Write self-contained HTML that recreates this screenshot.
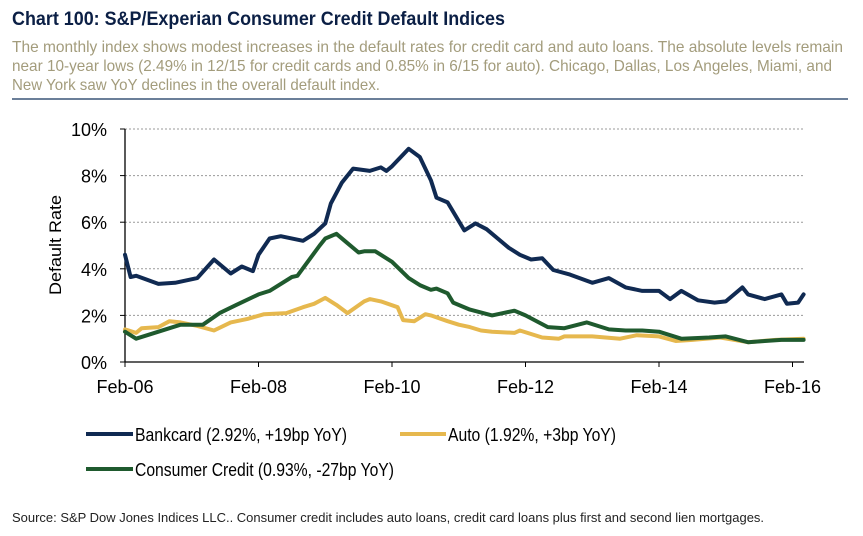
<!DOCTYPE html>
<html><head><meta charset="utf-8">
<style>
html,body{margin:0;padding:0;background:#fff;}
svg{display:block;font-family:"Liberation Sans",Arial,sans-serif;}
</style></head>
<body>
<svg id="chart" width="863" height="536" viewBox="0 0 863 536" xmlns="http://www.w3.org/2000/svg">
<text x="12" y="25" font-size="19.5" font-weight="bold" fill="#0b1f45" textLength="493" lengthAdjust="spacingAndGlyphs">Chart 100: S&amp;P/Experian Consumer Credit Default Indices</text>
<text x="12" y="52" font-size="16" fill="#a39c7c" textLength="831" lengthAdjust="spacingAndGlyphs">The monthly index shows modest increases in the default rates for credit card and auto loans.  The absolute levels remain</text>
<text x="12" y="71" font-size="16" fill="#a39c7c" textLength="820" lengthAdjust="spacingAndGlyphs">near 10-year lows (2.49% in 12/15 for credit cards and 0.85% in 6/15 for auto).  Chicago, Dallas, Los Angeles, Miami, and</text>
<text x="12" y="90" font-size="16" fill="#a39c7c" textLength="368" lengthAdjust="spacingAndGlyphs">New York saw YoY declines in the overall default index.</text>
<rect x="12" y="98" width="836" height="2" fill="#6b7f99"/>
<g id="grid"></g>
<g id="axes"></g>
<g id="series"></g>
<text transform="translate(61,245) rotate(-90)" text-anchor="middle" font-size="17" fill="#000" textLength="100" lengthAdjust="spacingAndGlyphs">Default Rate</text>
<g>
<line x1="86" y1="434" x2="133" y2="434" stroke="#102a52" stroke-width="4"/>
<text x="135" y="441" font-size="18" fill="#000" textLength="212" lengthAdjust="spacingAndGlyphs">Bankcard (2.92%, +19bp YoY)</text>
<line x1="400" y1="434" x2="446" y2="434" stroke="#e6b84e" stroke-width="4"/>
<text x="448" y="441" font-size="18" fill="#000" textLength="168" lengthAdjust="spacingAndGlyphs">Auto (1.92%, +3bp YoY)</text>
<line x1="86" y1="469" x2="133" y2="469" stroke="#1f5a2e" stroke-width="4"/>
<text x="135" y="476" font-size="18" fill="#000" textLength="259" lengthAdjust="spacingAndGlyphs">Consumer Credit (0.93%, -27bp YoY)</text>
</g>
<text x="12" y="522" font-size="12.5" fill="#222" textLength="752" lengthAdjust="spacingAndGlyphs">Source: S&amp;P Dow Jones Indices LLC.. Consumer credit includes auto loans, credit card loans plus first and second lien mortgages.</text>
</svg>
<script>
// months since Feb-06
const bankMonths=[0,1,2,6,9,13,16,19,21,23,24,26,28,32,34,36,37,39,41,44,46,47,48,51,53,55,56,58,61,63,65,67,69,71,73,75,77,80,84,87,90,93,96,98,100,103,106,108,111,112,115,118,119,121,122];
const bankValues=[4.6,3.65,3.7,3.35,3.4,3.6,4.4,3.8,4.1,3.9,4.6,5.3,5.4,5.2,5.5,5.95,6.8,7.7,8.3,8.2,8.35,8.2,8.4,9.15,8.8,7.8,7.05,6.85,5.65,5.95,5.7,5.3,4.9,4.6,4.4,4.45,3.95,3.75,3.4,3.6,3.2,3.05,3.05,2.7,3.05,2.65,2.55,2.6,3.2,2.9,2.7,2.9,2.5,2.55,2.9];
const consMonths=[0,2,6,10,14,17,20,24,26,30,31,35,36,38,40,42,43,45,48,51,53,55,56,58,59,62,66,70,72,76,79,83,87,90,93,96,100,105,108,112,115,118,122];
const consValues=[1.3,1.0,1.3,1.6,1.6,2.1,2.45,2.9,3.05,3.65,3.7,5.0,5.3,5.5,5.1,4.7,4.75,4.75,4.3,3.6,3.3,3.1,3.15,2.95,2.55,2.25,2.0,2.2,2.0,1.5,1.45,1.7,1.4,1.35,1.35,1.3,1.0,1.05,1.1,0.85,0.9,0.95,0.95];
const autoMonths=[0,2,3,6,8,10,13,16,19,22,25,29,32,34,36,38,40,43,44,46,49,50,52,54,55,58,60,62,64,66,70,71,75,78,79,84,89,92,96,99,102,107,112,117,122];
const autoValues=[1.4,1.25,1.45,1.5,1.75,1.7,1.55,1.35,1.7,1.85,2.05,2.1,2.35,2.5,2.75,2.45,2.1,2.6,2.7,2.6,2.35,1.8,1.75,2.05,2.0,1.75,1.6,1.5,1.35,1.3,1.25,1.35,1.05,1.0,1.1,1.1,1.0,1.15,1.1,0.9,0.95,1.05,0.85,0.95,1.0];
const xTickMonths=[0,24,48,72,96,120];
const xTickLabels=["Feb-06","Feb-08","Feb-10","Feb-12","Feb-14","Feb-16"];
const yTicks=[0,2,4,6,8,10];
const yTickLabels=["0%","2%","4%","6%","8%","10%"];

const NS="http://www.w3.org/2000/svg";
const X0=125,PX=133.5/24,XEND=804,Y0=362,PY=23.3;
function xs(m){return X0+m*PX;}
function ys(v){return Y0-v*PY;}
function mk(tag,attrs,parent){const e=document.createElementNS(NS,tag);for(const k in attrs)e.setAttribute(k,attrs[k]);parent.appendChild(e);return e;}
const grid=document.getElementById('grid'),axes=document.getElementById('axes'),series=document.getElementById('series');
yTicks.forEach((t,i)=>{
  if(t>0){const g=mk('line',{x1:X0,x2:XEND,y1:ys(t),y2:ys(t),stroke:'#9a9a9a','stroke-width':1,'stroke-dasharray':'2,2'},grid);
  
  }
  const tk=mk('line',{x1:X0-5,x2:X0,y1:ys(t),y2:ys(t),stroke:'#000','stroke-width':1},axes);
  
  
  const tx=mk('text',{x:107,y:ys(t)+7,'text-anchor':'end','font-size':18,fill:'#000'},axes);
  tx.textContent=yTickLabels[i];
  
  
});
const ya=mk('line',{x1:X0,x2:X0,y1:ys(10),y2:Y0,stroke:'#000','stroke-width':1.3},axes);


const xa=mk('line',{x1:X0,x2:XEND,y1:Y0,y2:Y0,stroke:'#000','stroke-width':1.3},axes);


xTickMonths.forEach((m,i)=>{
  const tk=mk('line',{x1:xs(m),x2:xs(m),y1:Y0,y2:Y0+5,stroke:'#000','stroke-width':1},axes);
  
  
  const tx=mk('text',{x:xs(m),y:393,'text-anchor':'middle','font-size':18,fill:'#000'},axes);
  tx.textContent=xTickLabels[i];
  
  
});
function drawLine(months,vals,color,name){
  const d=months.map((m,i)=>(i?'L':'M')+xs(m).toFixed(1)+','+ys(vals[i]).toFixed(1)).join(' ');
  const p=mk('path',{d:d,fill:'none',stroke:color,'stroke-width':4,'stroke-linejoin':'round','stroke-linecap':'round'},series);
  
  
}
drawLine(autoMonths,autoValues,'#e6b84e','auto-line');
drawLine(consMonths,consValues,'#1f5a2e','consumer-credit-line');
drawLine(bankMonths,bankValues,'#102a52','bankcard-line');
</script>
</body></html>
